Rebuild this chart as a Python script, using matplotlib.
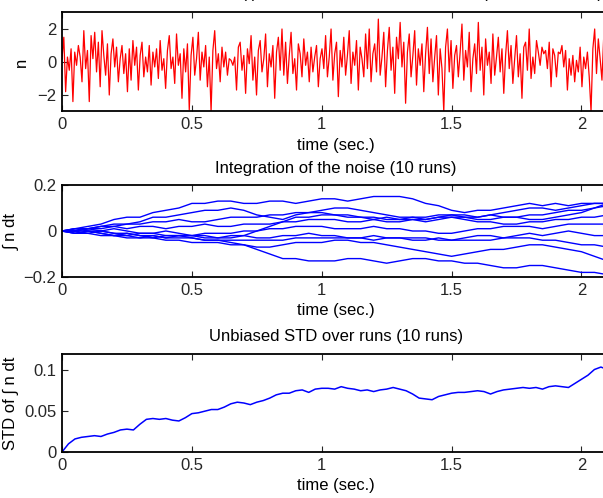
import numpy as np
import matplotlib
matplotlib.use("Agg")
import matplotlib.pyplot as plt

plt.rcParams['font.family'] = ['Liberation Sans', 'DejaVu Sans']
plt.rcParams['font.size'] = 12

# ---------------- data ----------------
noise_dt = 0.007
noise = [
    0.2, 1.5, -1.8, 0.3, -0.5, 0.8, -2.4, 0.6, -0.2, 1.0, 0.3, -1.2, 1.9, -0.4, 0.7, -2.4, 1.6, 0.2, 1.8, -0.6,
    1.2, -1.5, 1.9, 0.4, -0.8, 1.1, -2.0, 0.5, 1.4, -0.3, 0.9, -1.2, 0.2, 1.0, -0.7, 0.5, -1.8, 0.8, -1.1, 1.3,
    -0.2, 0.9, -1.7, 0.4, 1.2, -0.9, 0.3, -0.6, 1.0, -1.4, 0.6, -0.3, 0.8, -1.0, 1.3, -0.5, 0.2, -1.6, 0.7, 1.6,
    -0.4, 0.3, -1.3, 1.7, -0.2, 0.5, -2.2, 0.8, -0.6, 1.1, -2.9, 0.4, 1.5, -0.8, 0.2, 1.8, -1.1, 0.6, -0.3, 1.0,
    -1.5, 0.3, -3.0, 0.7, 1.9, -0.4, 0.5, -1.2, 0.9, -0.3, 0.6, -0.8, 0.2, 0.1, -0.2, 0.3, -1.7, 0.9, 1.2, -0.5,
    0.4, -1.9, 0.8, -0.1, 1.6, -1.1, 0.3, -2.0, 0.7, 1.3, -0.6, 0.2, 1.7, -1.5, 0.5, -0.3, 1.0, -2.2, 0.6, 1.5,
    -0.5, 2.0, -0.8, 1.2, -1.3, 0.4, 1.8, -0.7, 0.2, -1.7, 1.1, 0.5, -0.9, 1.4, -0.2, 0.6, -1.2, 0.9, -0.6, 0.3,
    1.0, -1.5, 0.2, 0.8, -0.4, 1.6, -0.9, 0.3, 2.0, -1.1, 0.5, 1.2, -2.1, 0.7, -0.3, 1.5, -0.8, 0.4, 1.9, -1.3,
    0.6, -0.2, 1.3, -1.7, 0.9, 0.2, -0.9, 1.7, -0.4, 2.0, -1.2, 0.5, 1.1, -0.6, 2.6, -0.8, 0.3, 1.8, -1.5, 0.7,
    2.1, -0.5, 0.9, -1.9, 1.5, 0.2, 2.4, -0.3, 1.2, -2.5, 0.6, 1.7, -0.9, 0.4, 1.9, -1.4, 0.8, -0.2, 1.1, -1.8,
    0.5, 2.1, -0.7, 1.4, -1.2, 0.3, 1.6, -2.0, 0.8, -0.4, -3.0, 0.9, 2.0, -0.6, 1.3, -1.6, 0.4, 1.0, -0.9, 0.6,
    2.3, -1.1, 0.7, -0.3, 1.8, -1.8, 0.2, 1.1, -0.7, 2.4, -0.5, 0.9, -2.0, 1.4, -0.2, 0.6, -1.3, 1.7, -0.8, 0.3,
    1.5, -0.6, 0.8, -1.9, 0.4, 1.9, -0.4, 1.0, -1.3, 0.2, 1.6, -0.9, 0.5, -2.2, 0.9, 1.2, -0.5, 2.0, -1.0, 0.3,
    -0.7, 1.3, 0.6, -0.2, 0.9, 0.5, 0.7, -0.4, 1.2, -1.5, 0.8, 0.4, -0.9, 0.6, 0.5, 1.0, -0.3, 0.7, -1.7, 0.2,
    -0.8, 0.4, -1.2, 0.1, -0.6, 0.9, -1.5, 0.3, -0.4, 0.6, -0.9, -3.0, 0.8, 2.0, -0.7, 1.4, 0.2, -1.1, 1.6, -0.5,
    1.2, -0.9, 0.5,
]

run_dt = 0.05
run1 = [0, 0.01, 0.02, 0.03, 0.05, 0.06, 0.06, 0.08, 0.09, 0.10, 0.12, 0.12, 0.13, 0.13, 0.12, 0.12, 0.13, 0.13, 0.12, 0.13, 0.14, 0.14, 0.13, 0.14, 0.15, 0.15, 0.15, 0.14, 0.12, 0.11, 0.09, 0.08, 0.09, 0.09, 0.10, 0.11, 0.12, 0.11, 0.12, 0.11, 0.12, 0.12, 0.12]
run2 = [0, 0.00, 0.01, 0.02, 0.03, 0.03, 0.04, 0.06, 0.06, 0.07, 0.08, 0.09, 0.09, 0.10, 0.09, 0.07, 0.06, 0.05, 0.07, 0.08, 0.09, 0.10, 0.10, 0.09, 0.08, 0.07, 0.06, 0.06, 0.05, 0.06, 0.07, 0.07, 0.06, 0.07, 0.08, 0.09, 0.10, 0.10, 0.09, 0.10, 0.11, 0.12, 0.12]
run3 = [0, -0.01, 0.00, -0.01, -0.02, -0.01, -0.02, -0.03, -0.02, -0.02, -0.03, -0.04, -0.04, -0.05, -0.06, -0.08, -0.10, -0.12, -0.12, -0.13, -0.13, -0.13, -0.12, -0.12, -0.13, -0.14, -0.13, -0.12, -0.12, -0.13, -0.13, -0.14, -0.14, -0.15, -0.16, -0.16, -0.15, -0.15, -0.16, -0.17, -0.18, -0.18, -0.19]
run4 = [0, 0.01, 0.00, -0.01, -0.02, -0.02, -0.03, -0.03, -0.04, -0.04, -0.05, -0.05, -0.05, -0.06, -0.06, -0.07, -0.07, -0.06, -0.05, -0.05, -0.05, -0.04, -0.04, -0.05, -0.05, -0.06, -0.07, -0.08, -0.09, -0.10, -0.11, -0.10, -0.09, -0.08, -0.08, -0.07, -0.06, -0.06, -0.07, -0.08, -0.09, -0.11, -0.13]
run5 = [0, 0.00, -0.01, 0.00, 0.01, 0.00, -0.01, -0.01, 0.00, -0.01, -0.02, -0.02, -0.03, -0.02, -0.02, -0.03, -0.03, -0.02, -0.02, -0.01, -0.02, -0.02, -0.03, -0.03, -0.02, -0.03, -0.03, -0.04, -0.04, -0.03, -0.04, -0.03, -0.02, -0.02, -0.03, -0.02, -0.01, -0.02, -0.01, 0.00, -0.01, -0.02, -0.02]
run6 = [0, 0.00, 0.01, 0.00, -0.01, -0.01, -0.02, -0.02, -0.03, -0.02, -0.02, -0.03, -0.03, -0.03, -0.02, 0.00, 0.02, 0.04, 0.06, 0.06, 0.07, 0.07, 0.07, 0.06, 0.06, 0.05, 0.05, 0.06, 0.06, 0.07, 0.07, 0.06, 0.06, 0.07, 0.06, 0.06, 0.05, 0.05, 0.06, 0.07, 0.08, 0.10, 0.12]
run7 = [0, 0.01, 0.01, 0.02, 0.02, 0.01, 0.02, 0.02, 0.01, 0.02, 0.02, 0.03, 0.02, 0.02, 0.03, 0.03, 0.03, 0.04, 0.04, 0.05, 0.05, 0.05, 0.04, 0.04, 0.05, 0.04, 0.04, 0.05, 0.05, 0.06, 0.06, 0.05, 0.04, 0.04, 0.03, 0.03, 0.04, 0.04, 0.05, 0.05, 0.06, 0.06, 0.07]
run8 = [0, -0.01, 0.00, 0.00, -0.01, -0.02, -0.01, -0.01, -0.02, -0.02, -0.02, -0.01, -0.01, -0.01, 0.00, 0.00, 0.01, 0.01, 0.02, 0.02, 0.02, 0.01, 0.01, 0.01, 0.02, 0.01, 0.01, 0.00, 0.00, -0.01, -0.01, 0.00, 0.01, 0.01, 0.02, 0.02, 0.02, 0.01, 0.02, 0.03, 0.03, 0.03, 0.03]
run9 = [0, -0.01, -0.01, -0.02, -0.02, -0.03, -0.03, -0.02, -0.03, -0.03, -0.03, -0.04, -0.04, -0.04, -0.04, -0.04, -0.04, -0.04, -0.03, -0.03, -0.03, -0.03, -0.03, -0.03, -0.04, -0.03, -0.03, -0.03, -0.03, -0.04, -0.04, -0.04, -0.04, -0.04, -0.03, -0.03, -0.03, -0.04, -0.04, -0.05, -0.06, -0.06, -0.07]
run10 = [0, 0.00, 0.01, 0.01, 0.02, 0.03, 0.03, 0.04, 0.04, 0.05, 0.04, 0.04, 0.05, 0.06, 0.06, 0.06, 0.07, 0.07, 0.08, 0.08, 0.08, 0.07, 0.06, 0.06, 0.05, 0.06, 0.05, 0.05, 0.04, 0.05, 0.06, 0.06, 0.05, 0.05, 0.06, 0.06, 0.07, 0.07, 0.08, 0.09, 0.09, 0.10, 0.11]
runs = [run1, run2, run3, run4, run5, run6, run7, run8, run9, run10]

std_dt = 0.025
std_vals = [
    0.000, 0.010, 0.016, 0.018, 0.019, 0.020, 0.019, 0.022, 0.024, 0.027,
    0.028, 0.027, 0.034, 0.040, 0.041, 0.040, 0.041, 0.039, 0.038, 0.042,
    0.047, 0.048, 0.050, 0.052, 0.052, 0.055, 0.059, 0.061, 0.060, 0.058,
    0.061, 0.063, 0.066, 0.070, 0.072, 0.072, 0.075, 0.076, 0.073, 0.077,
    0.078, 0.078, 0.077, 0.080, 0.078, 0.077, 0.075, 0.076, 0.074, 0.076,
    0.077, 0.079, 0.077, 0.075, 0.071, 0.066, 0.065, 0.064, 0.068, 0.070,
    0.072, 0.073, 0.073, 0.074, 0.075, 0.074, 0.071, 0.074, 0.076, 0.077,
    0.078, 0.079, 0.078, 0.079, 0.077, 0.080, 0.081, 0.080, 0.079, 0.084,
    0.089, 0.094, 0.101, 0.104, 0.101,
]

xticks = [0, 0.5, 1, 1.5, 2]
xticklabels = ['0', '0.5', '1', '1.5', '2']
xlabel = 'time (sec.)'
titles = ['Gaussian white noise n(t), zero mean and unit variance (dt = 0.001 sec.)',
          'Integration of the noise (10 runs)',
          'Unbiased STD over runs (10 runs)']
title_pads = [10.3, 9, 9]

# ---------------- figure ----------------
W, H = 603, 498
fig = plt.figure(figsize=(W / 100, H / 100), dpi=100)

def frac(left, top, right, bottom):
    return [left / W, 1 - bottom / H, (right - left) / W, (bottom - top) / H]

ax1 = fig.add_axes(frac(62, 12.5, 610, 111.5))
ax2 = fig.add_axes(frac(62, 185, 610, 277))
ax3 = fig.add_axes(frac(62, 354, 610, 452))

t_noise = np.arange(len(noise)) * noise_dt
ax1.plot(t_noise, noise, color='#ff0000', lw=0.9)
ax1.set_ylim(-3, 3)
ax1.set_yticks([-2, 0, 2])
ax1.set_yticklabels(['\u22122', '0', '2'])
ax1.set_ylabel('n', labelpad=6)

t_run = np.arange(len(run1)) * run_dt
for r in runs:
    ax2.plot(t_run, r, color='#0000ff', lw=1.0)
ax2.set_ylim(-0.2, 0.2)
ax2.set_yticks([-0.2, 0, 0.2])
ax2.set_yticklabels(['\u22120.2', '0', '0.2'])
ax2.set_ylabel('\u222b n dt', labelpad=3)

t_std = np.arange(len(std_vals)) * std_dt
ax3.plot(t_std, std_vals, color='#0000ff', lw=1.1)
ax3.set_ylim(0, 0.12)
ax3.set_yticks([0, 0.05, 0.1])
ax3.set_yticklabels(['0', '0.05', '0.1'])
ax3.set_ylabel('STD of \u222b n dt', labelpad=4)

for ax, ttl, tp in zip([ax1, ax2, ax3], titles, title_pads):
    ax.set_xlim(0, 2.11)
    ax.set_xticks(xticks)
    ax.set_xticklabels(xticklabels)
    ax.set_xlabel(xlabel, labelpad=4)
    ax.set_title(ttl, fontsize=12, pad=tp)
    ax.tick_params(direction='in', length=4, width=0.8, top=True, right=True,
                   labelsize=12, pad=4, colors='#262626')
    for s in ax.spines.values():
        s.set_linewidth(1.3)
        s.set_color('black')

fig.savefig('out.png', dpi=100)
